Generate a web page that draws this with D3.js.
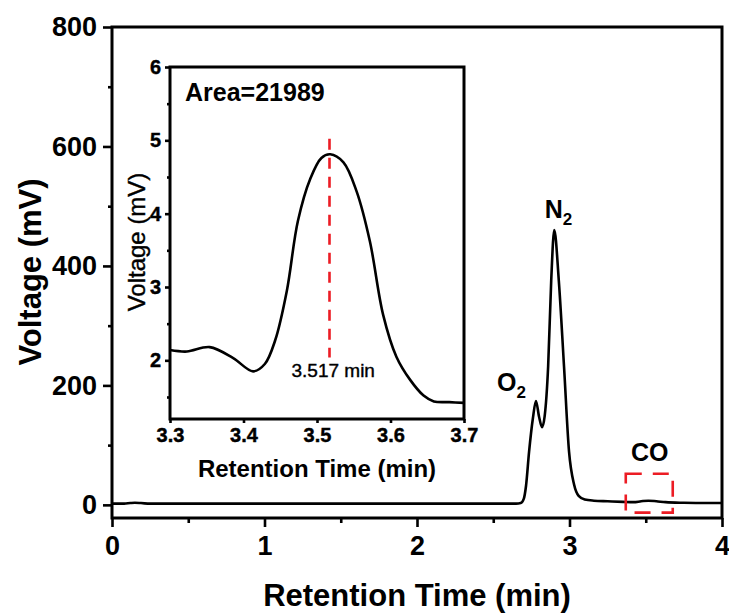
<!DOCTYPE html>
<html lang="en">
<head>
    <meta charset="UTF-8">
    <title>GC chromatogram with CO inset</title>
    <script src="https://d3js.org/d3.v7.min.js"></script>
    <style>
        body { margin: 0; background: #fff; }
        svg { font-family: "Liberation Sans", Arial, sans-serif; }
        .frame { fill: none; stroke: #000; stroke-width: 3; }
        .trace { fill: none; stroke: #000; stroke-width: 2.6; stroke-linejoin: round; }
        .axis path { display: none; }
        .axis line { stroke: #000; stroke-width: 2.6; }
        .axis text { fill: #000; font-weight: bold; }
        .heavy { stroke: #000; stroke-width: 0.4; }
    </style>
</head>
<body>
<script>
    // main chromatogram (min, mV)
    var mainTime = [0, 0.08, 0.12, 0.15, 0.19, 0.25, 0.6, 1.0, 1.5, 2.0, 2.5, 2.65, 2.68, 2.70, 2.715, 2.735, 2.76, 2.78,
        2.80, 2.82, 2.837, 2.86, 2.88, 2.90, 2.93, 2.964, 2.997, 3.03, 3.06, 3.10, 3.16, 3.25, 3.35, 3.42, 3.47,
        3.517, 3.57, 3.63, 3.75, 3.9, 4.0];
    var mainVolt = [2, 2, 3, 3.5, 3, 2, 2, 2, 2, 2, 2, 2, 3, 10, 32, 89, 145, 174,
        148, 130, 148, 232, 375, 460, 375, 232, 89, 34, 15, 9, 7, 6, 5, 4.5, 6,
        7, 6, 4.5, 3.5, 3, 3];

    // inset: CO peak (min, mV)
    var insetTime = [3.30, 3.323, 3.354, 3.386, 3.413, 3.429, 3.443, 3.459, 3.474, 3.491, 3.506, 3.518,
        3.536, 3.554, 3.572, 3.590, 3.608, 3.627, 3.645, 3.659, 3.68, 3.70];
    var insetVolt = [2.14, 2.12, 2.18, 2.03, 1.85, 1.95, 2.27, 2.95, 3.90, 4.48, 4.76, 4.81,
        4.70, 4.30, 3.62, 2.62, 2.05, 1.73, 1.52, 1.44, 1.43, 1.42];

    var mainXTicks = [0, 1, 2, 3, 4];
    var mainXMinor = [0.5, 1.5, 2.5, 3.5];
    var mainYTicks = [0, 200, 400, 600, 800];
    var mainYMinor = [100, 300, 500, 700];
    var insetXTicks = [3.3, 3.4, 3.5, 3.6, 3.7];
    var insetYTicks = [2, 3, 4, 5, 6];
    var insetYMinor = [1.5, 2.5, 3.5, 4.5, 5.5];

    var peakTime = 3.517;
    var peakLabel = "3.517 min";
    var areaLabel = "Area=21989";
    var coBoxTime = [3.369, 3.677];
    var coBoxVolt = [-13, 52];

    var width = 729, height = 614;
    var svg = d3.select("body").append("svg")
        .attr("width", width)
        .attr("height", height);

    // ---------- main plot ----------
    var x = d3.scaleLinear().domain([0, 4]).range([112, 722]);
    var y = d3.scaleLinear().domain([-22, 800]).range([518, 27]);

    var mainLine = d3.line()
        .x(function(d, i) { return x(mainTime[i]); })
        .y(function(d) { return y(d); })
        .curve(d3.curveMonotoneX);

    svg.append("path")
        .attr("class", "trace")
        .attr("d", mainLine(mainVolt));

    // minor ticks
    svg.append("g").attr("class", "axis")
        .attr("transform", "translate(0,518)")
        .call(d3.axisBottom(x).tickValues(mainXMinor).tickSize(5).tickFormat(""));
    svg.append("g").attr("class", "axis")
        .attr("transform", "translate(112,0)")
        .call(d3.axisLeft(y).tickValues(mainYMinor).tickSize(4).tickFormat(""));

    svg.append("g").attr("class", "axis")
        .attr("transform", "translate(0,518)")
        .call(d3.axisBottom(x).tickValues(mainXTicks).tickSize(9).tickPadding(9).tickFormat(d3.format("d")))
        .selectAll("text").style("font-size", "27px");
    svg.append("g").attr("class", "axis")
        .attr("transform", "translate(112,0)")
        .call(d3.axisLeft(y).tickValues(mainYTicks).tickSize(9).tickPadding(6).tickFormat(d3.format("d")))
        .selectAll("text").style("font-size", "27px");

    svg.append("rect").attr("class", "frame")
        .attr("x", 112).attr("y", 27)
        .attr("width", 722 - 112).attr("height", 518 - 27);

    svg.append("text")
        .attr("x", x(2)).attr("y", 606)
        .attr("text-anchor", "middle")
        .style("font-size", "31px").style("font-weight", "bold")
        .text("Retention Time (min)");
    svg.append("text")
        .attr("transform", "translate(41,272) rotate(-90)")
        .attr("text-anchor", "middle")
        .style("font-size", "31px").style("font-weight", "bold")
        .text("Voltage (mV)");

    // peak labels
    function gasLabel(t, v, main, sub) {
        var txt = svg.append("text")
            .attr("x", x(t)).attr("y", y(v))
            .style("font-size", "25px").style("font-weight", "bold");
        txt.append("tspan").text(main);
        if (sub) txt.append("tspan").attr("dy", 7).style("font-size", "17px").text(sub);
    }
    gasLabel(2.525, 191, "O", "2");
    gasLabel(2.837, 481, "N", "2");
    gasLabel(3.403, 73, "CO", null);

    svg.append("rect")
        .attr("x", x(coBoxTime[0])).attr("y", y(coBoxVolt[1]))
        .attr("width", x(coBoxTime[1]) - x(coBoxTime[0]))
        .attr("height", y(coBoxVolt[0]) - y(coBoxVolt[1]))
        .style("fill", "none").style("stroke", "#ec1c24")
        .style("stroke-width", 2.6).style("stroke-dasharray", "16,11");

    // ---------- inset ----------
    var ix = d3.scaleLinear().domain([3.3, 3.7]).range([170, 464]);
    var iy = d3.scaleLinear().domain([1.2, 6]).range([419, 67]);

    svg.append("rect")
        .attr("x", 170).attr("y", 67)
        .attr("width", 464 - 170).attr("height", 419 - 67)
        .style("fill", "#fff");

    var insetLine = d3.line()
        .x(function(d, i) { return ix(insetTime[i]); })
        .y(function(d) { return iy(d); })
        .curve(d3.curveCatmullRom.alpha(0.5));

    svg.append("path")
        .attr("class", "trace")
        .attr("d", insetLine(insetVolt));

    svg.append("line")
        .attr("x1", ix(peakTime)).attr("x2", ix(peakTime))
        .attr("y1", iy(5.02)).attr("y2", iy(2.04))
        .style("stroke", "#ec1c24").style("stroke-width", 2.6)
        .style("stroke-dasharray", "11,8");

    svg.append("g").attr("class", "axis")
        .attr("transform", "translate(170,0)")
        .call(d3.axisLeft(iy).tickValues(insetYMinor).tickSize(3).tickFormat(""));
    svg.append("g").attr("class", "axis")
        .attr("transform", "translate(0,419)")
        .call(d3.axisBottom(ix).tickValues(insetXTicks).tickSize(4).tickPadding(5).tickFormat(d3.format(".1f")))
        .selectAll("text").attr("class", "heavy").style("font-size", "20px");
    svg.append("g").attr("class", "axis")
        .attr("transform", "translate(170,0)")
        .call(d3.axisLeft(iy).tickValues(insetYTicks).tickSize(5).tickPadding(4).tickFormat(d3.format("d")))
        .selectAll("text").attr("class", "heavy").style("font-size", "20px");

    svg.append("rect").attr("class", "frame")
        .attr("x", 170).attr("y", 67)
        .attr("width", 464 - 170).attr("height", 419 - 67);

    svg.append("text")
        .attr("x", 185).attr("y", 101)
        .style("font-size", "25px").style("font-weight", "bold")
        .text(areaLabel);
    svg.append("text")
        .attr("class", "heavy")
        .attr("x", ix(peakTime) - 38).attr("y", 377)
        .style("font-size", "19px")
        .text(peakLabel);

    svg.append("text")
        .attr("x", (170 + 464) / 2).attr("y", 477)
        .attr("text-anchor", "middle")
        .style("font-size", "24px").style("font-weight", "bold")
        .text("Retention Time (min)");
    svg.append("text")
        .attr("class", "heavy")
        .attr("transform", "translate(145,242) rotate(-90)")
        .attr("text-anchor", "middle")
        .style("font-size", "24px")
        .text("Voltage (mV)");
</script>
</body>
</html>
